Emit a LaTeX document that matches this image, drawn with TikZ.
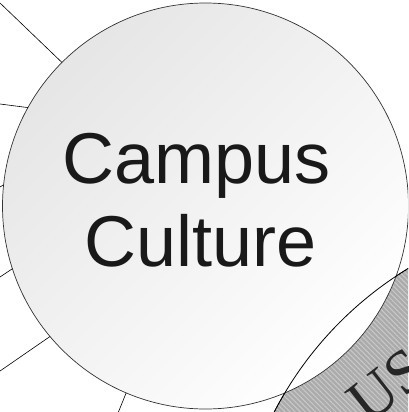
\documentclass[tikz,border=0pt]{standalone}
\usepackage{fontspec}
\setmainfont{Liberation Sans}
\newfontfamily\serifus{Liberation Serif}
\usetikzlibrary{patterns.meta}

\definecolor {ringgray}{gray}{0.67}
\definecolor {stripegray}{gray}{0.79}
\tikzstyle{c} = [draw, circle, inner sep=0pt, outer sep=0pt, line width=0.7pt]

\begin{document}
\begin{tikzpicture}[x=1pt,y=-1pt,
			main/.style = {c, black!80, minimum size=406pt, top color=black!10, bottom color=white, shading angle=45},
			other/.style = {c, black, minimum size=724pt, fill=ringgray, postaction={pattern={Lines[angle=-45,distance=3.6pt,line width=1pt]}, pattern color=stripegray}},
			word/.style = {font=\fontsize{72}{82}\selectfont, anchor=base, text=black!90},
			spoke/.style = {draw, black, line width=0.6pt}]
			\useasboundingbox (0,0) rectangle (408,412);
			\clip (0,0) rectangle (408,412);
			
			\node (ring)[other] at (596,578) {};
			\node (us)[anchor=base west, rotate=38, font=\serifus\fontsize{62}{62}\selectfont, text=black!85] at (366,428) {US};
			
			\coordinate (e1) at (0,3);
			\coordinate (e2) at (0,104);
			\coordinate (e3) at (0,187);
			\coordinate (e4) at (0,277);
			\coordinate (e5) at (0,371);
			\coordinate (e6) at (118,413);
			
			\node (big)[main] at (205.5,206) {};
			\draw[spoke] (e1) -- (big.135);
			\draw[spoke] (e2) -- (big.151.8);
			\draw[spoke] (e3) -- (big.174.4);
			\draw[spoke] (e4) -- (big.198.9);
			\draw[spoke] (e5) -- (big.220.5);
			\draw[spoke] (e6) -- (big.247);
			\draw[black, line width=0.8pt] (ring.center) circle [radius=362pt];
			
			\node (campus)[word] at (196.5,183) {Campus};
			\node (culture)[word] at (200.5,266) {Culture};
		\end{tikzpicture}
\end{document}
